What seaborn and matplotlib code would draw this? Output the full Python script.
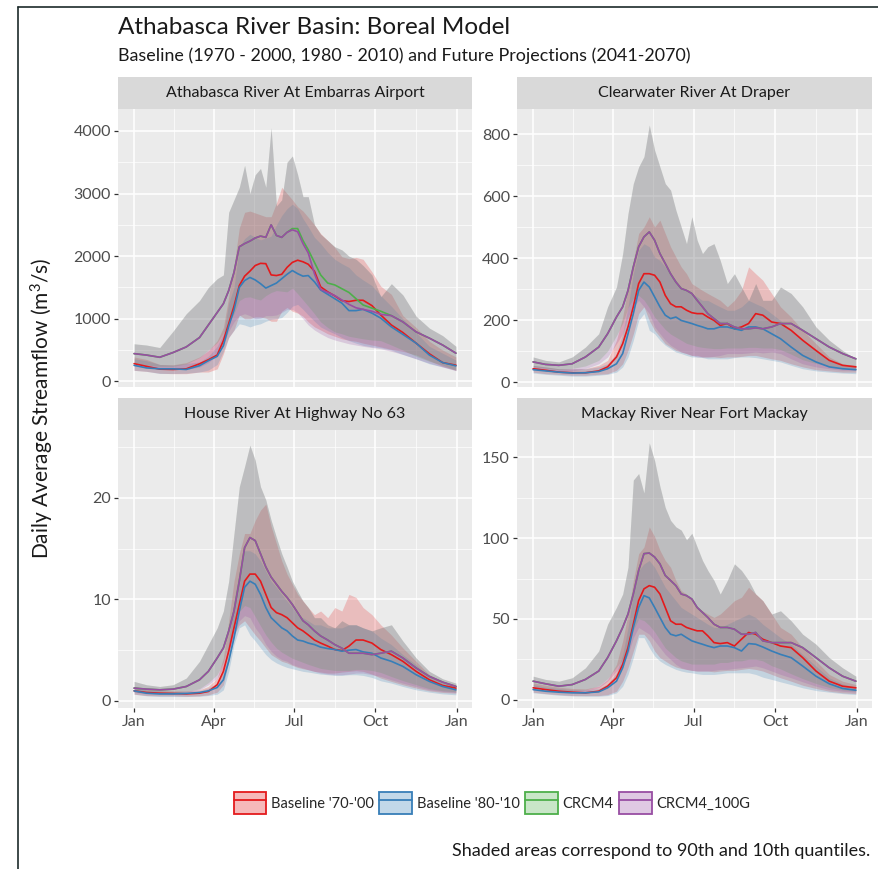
import matplotlib
matplotlib.use('Agg')
import matplotlib.pyplot as plt
import seaborn as sns
import pandas as pd
from matplotlib.patches import Patch
from matplotlib.lines import Line2D
from matplotlib.colors import to_rgba

days = [1, 15, 30, 45, 60, 75, 85, 95, 102, 108,
        114, 120, 126, 132, 138, 144, 150, 156, 162, 168,
        174, 180, 186, 192, 198, 205, 212, 220, 228, 236,
        244, 252, 260, 270, 280, 292, 305, 320, 335, 350, 365]

series_names = ["Baseline '70-'00", "Baseline '80-'10", 'CRCM4', 'CRCM4_100G']
series_colors = ['#E41A1C', '#377EB8', '#4DAF4A', '#984EA3']

# ---- Athabasca River At Embarras Airport
ath_red = [283, 240, 195, 190, 200, 280, 345, 420, 650, 920,
           1200, 1530, 1680, 1760, 1850, 1885, 1880, 1700, 1690, 1710,
           1820, 1900, 1935, 1910, 1870, 1760, 1510, 1430, 1365, 1290,
           1275, 1295, 1295, 1210, 1060, 900, 780, 610, 440, 300, 258]
ath_red_lo = [176, 160, 130, 123, 123, 149, 149, 200, 440, 700,
              820, 1060, 1000, 1000, 1030, 1029, 1010, 960, 960, 1120,
              1180, 1120, 1090, 1040, 950, 870, 820, 760, 720, 680,
              656, 640, 610, 580, 550, 510, 480, 420, 330, 240, 176]
ath_red_hi = [390, 350, 270, 265, 300, 390, 490, 650, 860, 1350,
              1850, 2450, 2700, 2720, 2690, 2660, 2630, 2630, 2850, 3100,
              3000, 2900, 2790, 2720, 2620, 2500, 2360, 2250, 2140, 1990,
              1960, 1980, 1950, 1750, 1520, 1390, 1050, 860, 640, 500, 390]
ath_blue = [256, 215, 200, 200, 190, 250, 330, 400, 570, 880,
            1140, 1500, 1610, 1660, 1620, 1560, 1490, 1530, 1570, 1640,
            1710, 1770, 1720, 1680, 1690, 1590, 1460, 1390, 1320, 1250,
            1130, 1130, 1150, 1090, 1010, 870, 750, 610, 420, 300, 248]
ath_blue_lo = [176, 160, 125, 125, 130, 149, 180, 270, 480, 700,
               816, 920, 900, 870, 900, 920, 960, 990, 1000, 1020,
               1100, 1200, 1230, 1150, 1060, 960, 869, 810, 760, 700,
               650, 610, 575, 550, 535, 500, 430, 360, 280, 230, 176]
ath_blue_hi = [362, 330, 270, 260, 285, 310, 400, 560, 760, 1250,
               1500, 2150, 2280, 2350, 2300, 2260, 2290, 2320, 2500, 2650,
               2760, 2830, 2760, 2600, 2470, 2300, 2200, 2060, 1950, 1880,
               1820, 1700, 1620, 1530, 1370, 1200, 1000, 780, 560, 450, 340]
ath_green = [443, 420, 385, 460, 550, 700, 900, 1100, 1240, 1450,
             1740, 2150, 2200, 2240, 2290, 2320, 2300, 2500, 2330, 2300,
             2380, 2440, 2440, 2250, 2100, 1900, 1700, 1570, 1540, 1480,
             1420, 1320, 1220, 1170, 1120, 1050, 950, 790, 690, 580, 450]
ath_green_lo = [283, 260, 240, 240, 280, 380, 500, 620, 770, 920,
                1080, 1290, 1340, 1350, 1320, 1300, 1370, 1420, 1450, 1440,
                1430, 1490, 1400, 1300, 1200, 1080, 950, 860, 790, 760,
                720, 700, 680, 660, 650, 580, 500, 400, 320, 260, 180]
ath_purple = [443, 420, 385, 460, 550, 700, 900, 1100, 1240, 1450,
              1740, 2150, 2200, 2240, 2290, 2320, 2300, 2500, 2330, 2300,
              2380, 2420, 2390, 2200, 2050, 1720, 1470, 1420, 1370, 1300,
              1230, 1175, 1150, 1120, 1070, 1050, 950, 790, 690, 580, 450]
ath_purple_lo = [250, 230, 200, 190, 190, 230, 300, 420, 600, 800,
                 950, 1050, 1080, 1050, 1000, 1010, 1050, 1050, 1060, 1100,
                 1150, 1150, 1100, 1000, 900, 820, 760, 700, 660, 630,
                 600, 580, 560, 540, 520, 480, 430, 360, 290, 230, 170]
ath_purple_hi = [600, 580, 540, 800, 1080, 1290, 1500, 1640, 1700, 2700,
                 2900, 3100, 3450, 3000, 3300, 3400, 3100, 4050, 2800, 2900,
                 3500, 3600, 3300, 2950, 2950, 2500, 2350, 2250, 2150, 2100,
                 2000, 1950, 1850, 1700, 1350, 1560, 1380, 1040, 850, 730, 560]

# ---- Clearwater River At Draper
clw_red = [43, 38, 32, 30, 30, 36, 49, 81, 124, 178,
           243, 318, 350, 350, 345, 323, 280, 253, 243, 243,
           232, 224, 221, 221, 210, 199, 183, 189, 172, 178,
           189, 221, 216, 194, 189, 167, 135, 102, 70, 54, 49]
clw_red_lo = [32, 27, 25, 22, 22, 25, 27, 38, 59, 102,
              156, 221, 243, 199, 167, 146, 124, 113, 102, 97,
              92, 86, 86, 81, 81, 81, 79, 81, 81, 83,
              86, 86, 81, 75, 70, 59, 49, 40, 36, 32, 32]
clw_red_hi = [54, 49, 43, 43, 43, 54, 70, 135, 210, 307,
              393, 480, 501, 534, 501, 523, 480, 437, 404, 372,
              350, 318, 307, 296, 286, 275, 264, 243, 264, 296,
              372, 350, 329, 286, 243, 210, 167, 124, 81, 59, 54]
clw_blue = [40, 36, 32, 29, 30, 34, 43, 59, 92, 156,
            221, 296, 323, 307, 275, 243, 216, 205, 210, 199,
            194, 189, 183, 178, 172, 172, 178, 178, 172, 167,
            178, 178, 172, 156, 140, 113, 86, 65, 49, 43, 40]
clw_blue_lo = [29, 25, 22, 19, 19, 22, 25, 32, 49, 81,
               135, 199, 221, 167, 156, 135, 119, 108, 97, 92,
               86, 81, 81, 79, 75, 75, 75, 75, 79, 81,
               81, 79, 75, 70, 65, 54, 43, 36, 32, 29, 27]
clw_blue_hi = [54, 49, 43, 43, 43, 49, 59, 92, 156, 243,
               350, 426, 447, 437, 404, 393, 372, 350, 329, 307,
               296, 286, 275, 264, 264, 253, 243, 232, 232, 243,
               264, 253, 243, 221, 199, 167, 135, 102, 70, 54, 49]
clw_purple = [65, 57, 54, 59, 81, 113, 156, 210, 243, 296,
              372, 437, 469, 485, 458, 415, 383, 350, 323, 302,
              296, 286, 264, 243, 221, 205, 189, 189, 178, 172,
              172, 175, 172, 178, 189, 189, 167, 140, 113, 92, 75]
clw_purple_lo = [43, 38, 32, 36, 43, 59, 81, 124, 156, 210,
                 243, 264, 243, 221, 178, 156, 135, 119, 108, 97,
                 92, 86, 81, 81, 81, 83, 86, 92, 92, 92,
                 94, 97, 94, 97, 92, 75, 59, 49, 43, 38, 38]
clw_purple_hi = [81, 70, 65, 81, 113, 156, 243, 307, 415, 544,
                 641, 695, 728, 830, 749, 695, 641, 620, 555, 501,
                 447, 534, 458, 415, 437, 447, 393, 318, 350, 307,
                 264, 318, 264, 264, 307, 286, 243, 178, 135, 102, 75]
clw_green_lo = [50, 45, 40, 44, 52, 70, 100, 150, 190, 240,
                270, 280, 265, 240, 210, 190, 170, 155, 145, 135,
                125, 120, 115, 112, 110, 108, 108, 110, 110, 110,
                112, 112, 110, 110, 105, 90, 72, 60, 52, 46, 44]

# ---- House River At Highway No 63
hse_red = [0.99, 0.83, 0.76, 0.73, 0.69, 0.76, 0.93, 1.59, 2.91, 4.89,
           7.2, 9.5, 11.8, 12.5, 12.5, 11.8, 10.5, 9.2, 8.7, 8.5,
           8.2, 7.7, 7.2, 6.9, 6.5, 6.0, 5.7, 5.4, 5.06, 4.96,
           5.4, 6.0, 6.0, 5.7, 5.06, 4.56, 3.9, 2.91, 2.08, 1.52, 1.26]
hse_red_lo = [0.66, 0.53, 0.5, 0.5, 0.46, 0.5, 0.6, 0.86, 1.59, 3.9,
              6.5, 7.5, 7.9, 7.2, 6.5, 5.9, 5.22, 4.56, 4.23, 3.9,
              3.74, 3.5, 3.3, 3.17, 3.07, 2.91, 2.84, 2.74, 2.74, 2.84,
              2.91, 2.98, 2.91, 2.64, 2.25, 1.92, 1.59, 1.26, 0.99, 0.83, 0.76]
hse_red_hi = [1.42, 1.16, 1.02, 0.99, 0.99, 1.09, 1.42, 2.25, 4.23, 7.9,
              11.8, 14.5, 16.5, 16.5, 17.8, 18.8, 19.4, 17.2, 15.5, 13.8,
              12.5, 11.5, 10.5, 9.85, 9.2, 8.5, 8.86, 8.2, 9.2, 8.86,
              10.5, 10.2, 9.2, 8.5, 7.5, 6.5, 5.22, 3.9, 2.58, 1.92, 1.59]
hse_blue = [0.99, 0.76, 0.69, 0.69, 0.73, 0.83, 0.99, 1.32, 2.08, 3.9,
            6.2, 8.86, 11.2, 11.8, 11.5, 10.5, 9.2, 8.2, 7.7, 7.2,
            6.9, 6.4, 6.0, 5.9, 5.7, 5.55, 5.3, 5.16, 5.06, 4.9,
            5.0, 5.06, 4.83, 4.7, 4.23, 3.9, 3.4, 2.58, 1.92, 1.42, 1.09]
hse_blue_lo = [0.66, 0.5, 0.43, 0.43, 0.43, 0.46, 0.53, 0.66, 1.09, 2.91,
               5.55, 7.2, 7.5, 6.5, 5.9, 5.22, 4.56, 4.07, 3.74, 3.5,
               3.3, 3.17, 3.04, 2.91, 2.84, 2.74, 2.64, 2.58, 2.51, 2.51,
               2.58, 2.58, 2.51, 2.31, 1.98, 1.75, 1.42, 1.09, 0.86, 0.69, 0.6]
hse_blue_hi = [1.42, 1.09, 0.99, 0.93, 0.93, 0.99, 1.26, 1.75, 2.91, 5.9,
               9.85, 12.8, 14.8, 14.8, 14.5, 13.8, 12.8, 11.8, 11.2, 10.5,
               9.85, 9.2, 8.5, 8.2, 7.9, 7.5, 7.5, 7.2, 7.2, 7.2,
               7.5, 7.5, 7.2, 6.9, 6.2, 5.55, 4.56, 3.57, 2.41, 1.75, 1.42]
hse_purple = [1.26, 1.16, 1.09, 1.16, 1.42, 2.08, 2.91, 4.23, 5.22, 6.88,
              8.86, 11.8, 15.1, 16.1, 15.8, 14.5, 13.2, 12.2, 11.5, 10.8,
              10.2, 9.5, 8.7, 7.9, 7.5, 6.9, 6.4, 6.0, 5.55, 5.2,
              4.7, 4.7, 4.7, 4.56, 4.7, 4.9, 4.23, 3.24, 2.41, 1.85, 1.42]
hse_purple_lo = [0.83, 0.69, 0.66, 0.69, 0.83, 1.09, 1.59, 2.25, 3.24, 4.89,
                 6.5, 7.9, 8.4, 8.2, 7.2, 6.5, 5.55, 4.89, 4.4, 4.07,
                 3.9, 3.57, 3.4, 3.24, 3.07, 2.91, 2.74, 2.64, 2.58, 2.58,
                 2.64, 2.74, 2.74, 2.58, 2.41, 2.08, 1.75, 1.42, 1.09, 0.93, 0.83]
hse_purple_hi = [1.92, 1.59, 1.42, 1.59, 2.25, 3.9, 5.55, 7.2, 8.86, 11.8,
                 16.5, 21.1, 23.1, 25.2, 23.7, 21.1, 19.8, 17.8, 16.1, 14.5,
                 13.2, 11.8, 10.8, 9.85, 9.2, 8.2, 8.2, 7.5, 7.2, 7.9,
                 7.5, 7.5, 7.2, 6.9, 7.2, 7.5, 5.9, 4.23, 2.91, 2.18, 1.75]
hse_green_lo = [0.9, 0.75, 0.7, 0.75, 0.9, 1.2, 1.8, 2.6, 3.8, 5.6,
                7.4, 8.8, 9.4, 9.2, 8.3, 7.4, 6.5, 5.8, 5.2, 4.8,
                4.5, 4.2, 4.0, 3.8, 3.6, 3.4, 3.2, 3.1, 3.0, 3.0,
                3.0, 3.1, 3.1, 3.0, 2.8, 2.4, 2.0, 1.6, 1.2, 1.0, 0.9]

# ---- Mackay River Near Fort Mackay
mck_red = [7.3, 6.2, 5.2, 4.6, 4.2, 5.2, 8.3, 13.5, 21.8, 32.2,
           46.7, 61.3, 68.6, 70.6, 69.6, 65.4, 57.1, 48.8, 46.7, 46.7,
           44.7, 43.6, 42.6, 42.6, 39.5, 35.3, 34.7, 35.3, 33.2, 37.4,
           41.6, 40.5, 37.4, 35.3, 33.2, 32.2, 26, 17.7, 11.4, 8.3, 7.3]
mck_red_lo = [4.6, 3.7, 3.1, 2.5, 2.5, 2.5, 3.1, 5.2, 11.4, 19.7,
              30.1, 40.5, 40.5, 36.4, 30.1, 26, 23.9, 21.8, 20.2, 19.3,
              18.7, 18.1, 17.7, 17.7, 17.7, 17.2, 17.7, 18.1, 18.1, 18.7,
              19.3, 18.7, 17.7, 15.6, 13.5, 11.4, 8.9, 6.9, 5.2, 4.2, 3.7]
mck_red_hi = [10.4, 8.9, 7.7, 6.9, 6.6, 8.3, 12.5, 21.8, 36.4, 53,
              73.8, 90.4, 94.5, 107, 101, 92.5, 86.2, 82, 73.8, 67.5,
              65.4, 61.3, 57.1, 55, 53, 50.9, 53, 57.1, 61.3, 63.4,
              69.6, 65.4, 61.3, 53, 44.7, 40.5, 32.2, 23.9, 15.6, 11.4, 9.3]
mck_blue = [6.2, 5.2, 4.6, 4.2, 4.2, 4.8, 7.3, 11.4, 19.7, 30.1,
            44.7, 57.1, 64.4, 63, 57.1, 50.9, 44.7, 40.5, 39.5, 40.5,
            38.4, 36.4, 35.3, 34.3, 33.2, 32.2, 33.2, 33.2, 32.2, 30.1,
            34.7, 34.3, 32.6, 30.1, 28, 26, 20.8, 14.5, 9.8, 6.9, 5.8]
mck_blue_lo = [4.2, 3.5, 2.7, 2.3, 2.1, 2.1, 2.5, 4.2, 8.3, 15.6,
               26, 38.4, 38.4, 32.2, 27, 23.9, 21.8, 20.2, 18.7, 17.7,
               17, 16.6, 16, 15.6, 15.6, 15.6, 16, 16.6, 16.6, 16.6,
               16.6, 15.6, 13.9, 12.5, 11, 9.3, 7.3, 5.6, 4.6, 3.7, 3.1]
mck_blue_hi = [9.3, 7.7, 6.9, 6.2, 6, 6.9, 9.8, 16.6, 28, 44.7,
               65.4, 80, 84.1, 86.2, 82, 75.8, 69.6, 65.4, 61.3, 57.1,
               55, 53, 50.9, 48.8, 46.7, 44.7, 44.7, 46.7, 48.8, 50.9,
               53, 50.9, 46.7, 42.6, 38.4, 34.3, 28, 20.8, 13.5, 9.8, 7.7]
mck_purple = [11.4, 9.8, 8.3, 9.3, 12.5, 17.7, 26, 36.4, 44.7, 53,
              65.4, 80, 90.4, 90.8, 88.3, 84.1, 76.9, 73.8, 70.6, 65.4,
              64.4, 62.3, 57.1, 54, 50.9, 46.7, 44.7, 44.7, 43.6, 40.5,
              40.5, 41.6, 36.4, 35.3, 35.3, 35.3, 32.2, 26, 19.7, 14.5, 11.4]
mck_purple_lo = [7.7, 6.2, 5.2, 4.8, 5.2, 7.3, 11.4, 17.7, 21.8, 28,
                 38.4, 44.7, 42.6, 40.5, 36.4, 32.2, 28, 24.9, 21.8, 19.7,
                 18.7, 18.1, 17.7, 17.7, 17.7, 18.1, 18.7, 18.7, 19.3, 19.7,
                 20.2, 20.8, 19.7, 17.7, 15.6, 13.5, 11, 8.3, 6.2, 5.2, 4.6]
mck_purple_hi = [14.5, 12.5, 11.4, 13.5, 19.7, 30.1, 46.7, 57.1, 65.4, 82,
                 136, 140, 128, 159, 148, 132, 119, 111, 107, 105,
                 99, 103, 94.5, 86.2, 80, 73.8, 65.4, 73.8, 84.1, 80,
                 73.8, 65.4, 61.3, 53, 55, 48.8, 40.5, 34.3, 26, 19.7, 14.5]
mck_green_lo = [8.5, 7, 6, 5.5, 6, 8.5, 13, 20, 25, 32,
                43, 50, 49, 46, 42, 37, 32, 29, 26, 24,
                23, 22, 22, 22, 22, 22, 23, 23, 24, 24,
                25, 25, 24, 21, 19, 16, 13, 10, 7.5, 6, 5.2]

stations = ['Athabasca River At Embarras Airport', 'Clearwater River At Draper',
            'House River At Highway No 63', 'Mackay River Near Fort Mackay']

# (mean, lo, hi) per series, in legend order
station_data = {
    stations[0]: [(ath_red, ath_red_lo, ath_red_hi), (ath_blue, ath_blue_lo, ath_blue_hi),
                  (ath_green, ath_green_lo, ath_purple_hi), (ath_purple, ath_purple_lo, ath_purple_hi)],
    stations[1]: [(clw_red, clw_red_lo, clw_red_hi), (clw_blue, clw_blue_lo, clw_blue_hi),
                  (clw_purple, clw_green_lo, clw_purple_hi), (clw_purple, clw_purple_lo, clw_purple_hi)],
    stations[2]: [(hse_red, hse_red_lo, hse_red_hi), (hse_blue, hse_blue_lo, hse_blue_hi),
                  (hse_purple, hse_green_lo, hse_purple_hi), (hse_purple, hse_purple_lo, hse_purple_hi)],
    stations[3]: [(mck_red, mck_red_lo, mck_red_hi), (mck_blue, mck_blue_lo, mck_blue_hi),
                  (mck_purple, mck_green_lo, mck_purple_hi), (mck_purple, mck_purple_lo, mck_purple_hi)],
}

y_ticks = [[0, 1000, 2000, 3000, 4000], [0, 200, 400, 600, 800], [0, 10, 20], [0, 50, 100, 150]]
y_lims = [(-90, 4350), (-16, 882), (-0.7, 26.7), (-5.2, 167)]

rows = []
for st in stations:
    for name, (mean, lo, hi) in zip(series_names, station_data[st]):
        for d, m, l, h in zip(days, mean, lo, hi):
            rows.append({'station': st, 'series': name, 'day': d, 'flow': m, 'lo': l, 'hi': h})
df = pd.DataFrame(rows)

sns.set_theme(style='darkgrid', rc={'axes.facecolor': '#EBEBEB', 'grid.color': 'white'})
plt.rcParams['font.family'] = ['Lato', 'DejaVu Sans']
plt.rcParams['mathtext.default'] = 'regular'

W, H = 879, 869
fig = plt.figure(figsize=(W / 100, H / 100), dpi=100)
fig.patch.set_facecolor('white')

# panel boxes in pixels: left, top, right, bottom
boxes = [(118, 109, 472, 387), (517, 109, 872, 387), (118, 430, 472, 708), (517, 430, 872, 708)]
strip_h = 32
palette = dict(zip(series_names, series_colors))

x_ticks = [1, 91, 182, 274, 366]
x_minor = [46, 136.5, 228, 320]

for i, st in enumerate(stations):
    l, t, r, b = boxes[i]
    ax = fig.add_axes([l / W, 1 - b / H, (r - l) / W, (b - t) / H])
    sub = df[df['station'] == st]
    for name in series_names:
        s = sub[sub['series'] == name]
        ax.fill_between(s['day'], s['lo'], s['hi'], color=palette[name], alpha=0.22, linewidth=0)
    sns.lineplot(data=sub, x='day', y='flow', hue='series', hue_order=series_names,
                 palette=palette, estimator=None, errorbar=None, linewidth=1.2,
                 legend=False, ax=ax)
    ax.set_xlim(-17.2, 383.2)
    ax.set_xticks(x_ticks)
    ax.set_xticks(x_minor, minor=True)
    yt = y_ticks[i]
    step = yt[1] - yt[0]
    ax.set_yticks(yt)
    ax.set_yticks([v + step / 2 for v in yt], minor=True)
    ax.set_ylim(*y_lims[i])
    ax.set_yticklabels([str(v) for v in yt])
    ax.grid(which='major', color='white', linewidth=1.1)
    ax.grid(which='minor', color='white', linewidth=0.5)
    ax.set_axisbelow(True)
    for sp in ax.spines.values():
        sp.set_visible(False)
    ax.set_xlabel('')
    ax.set_ylabel('')
    ax.tick_params(axis='y', which='major', length=3, width=0.9, color='#333333',
                   labelsize=11.5, labelcolor='#4D4D4D', pad=2, left=True)
    ax.tick_params(which='minor', length=0)
    if i >= 2:
        ax.set_xticklabels(['Jan', 'Apr', 'Jul', 'Oct', 'Jan'])
        ax.tick_params(axis='x', which='major', length=3, width=0.9, color='#333333',
                       labelsize=11.5, labelcolor='#4D4D4D', pad=2, bottom=True)
    else:
        ax.tick_params(axis='x', which='major', length=0, labelbottom=False)

    sax = fig.add_axes([l / W, 1 - t / H, (r - l) / W, strip_h / H])
    sax.set_facecolor('#D9D9D9')
    sax.set_xticks([])
    sax.set_yticks([])
    sax.grid(False)
    for sp in sax.spines.values():
        sp.set_visible(False)
    sax.text(0.5, 0.5, st, ha='center', va='center', fontsize=11.5, color='#1A1A1A',
             transform=sax.transAxes)

fig.text(118 / W, 1 - 28 / H, 'Athabasca River Basin: Boreal Model', fontsize=17.5,
         color='#1A1A1A', ha='left', va='center')
fig.text(118 / W, 1 - 56 / H, 'Baseline (1970 - 2000, 1980 - 2010) and Future Projections (2041-2070)',
         fontsize=12.9, color='#1A1A1A', ha='left', va='center')
fig.text(42 / W, 1 - 408 / H, 'Daily Average Streamflow (m$^3$/s)', fontsize=15,
         rotation=90, ha='center', va='center', color='#1A1A1A')

handles = []
for c in series_colors:
    handles.append((Patch(facecolor=to_rgba(c, 0.3), edgecolor=c, linewidth=1.3),
                    Line2D([], [], color=c, linewidth=1.3)))
fig.legend(handles, series_names, loc='center', bbox_to_anchor=(492 / W, 1 - 803 / H),
           ncol=4, frameon=False, handlelength=2.25, handleheight=2.0, handletextpad=0.3,
           columnspacing=0.4, fontsize=10.5, borderaxespad=0, borderpad=0)

fig.text(870 / W, 1 - 851 / H, 'Shaded areas correspond to 90th and 10th quantiles.',
         fontsize=13, ha='right', va='center', color='#1A1A1A')

# frame lines of the original screenshot
fig.add_artist(Line2D([18 / W, 18 / W], [0, 1 - 7 / H], color='#1C2B2B', linewidth=1.2))
fig.add_artist(Line2D([18 / W, 1], [1 - 7 / H, 1 - 7 / H], color='#1C2B2B', linewidth=1.2))

fig.savefig('out.png', dpi=100)
